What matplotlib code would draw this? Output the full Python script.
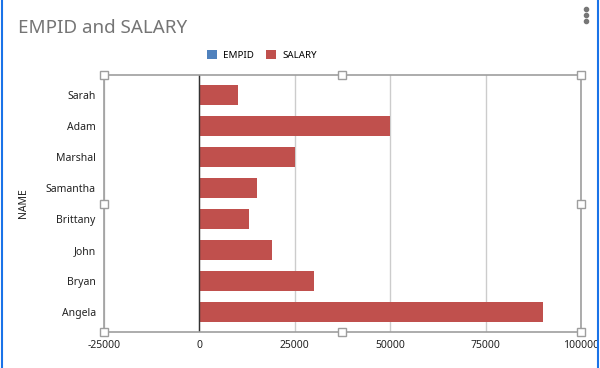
import matplotlib.pyplot as plt
from matplotlib.patches import Rectangle
from matplotlib.lines import Line2D

names = ["Sarah", "Adam", "Marshal", "Samantha", "Brittany", "John", "Bryan", "Angela"]
empid = [1, 2, 3, 4, 5, 6, 7, 8]
salary = [10000, 50000, 25000, 15000, 13000, 19000, 30000, 90000]
xticks = [-25000, 0, 25000, 50000, 75000, 100000]

BLUE = "#4f81bd"
RED = "#c0504d"
GRID = "#cccccc"
FRAME = "#9e9e9e"

plt.rcParams["font.family"] = ["Noto Sans", "DejaVu Sans"]

fig = plt.figure(figsize=(6.0, 3.68), dpi=100, facecolor="white")
ax = fig.add_axes([104 / 600, 1 - 332 / 368, 477 / 600, 257 / 368])

ypos = list(range(len(names)))
ax.barh(ypos, empid, height=0.65, color=BLUE, label="EMPID")
ax.barh(ypos, salary, left=empid, height=0.65, color=RED, label="SALARY")

ax.set_xlim(xticks[0], xticks[-1])
ax.set_ylim(len(names) - 1 + 0.645, -0.645)
ax.set_xticks(xticks)
ax.set_xticklabels([str(v) for v in xticks])
ax.set_yticks(ypos)
ax.set_yticklabels(names)
ax.tick_params(axis="both", length=0, labelsize=7.5, colors="#222222")
ax.tick_params(axis="x", pad=6)
ax.tick_params(axis="y", pad=6)
ax.xaxis.grid(True, color=GRID, linewidth=1)
ax.set_axisbelow(True)
ax.axvline(0, color="#333333", linewidth=1, zorder=1)
for side in ax.spines.values():
    side.set_color(FRAME)
    side.set_linewidth(1.2)
ax.set_ylabel("NAME", fontsize=7.5, color="#222222", labelpad=12)

fig.text(18 / 600, 1 - 28 / 368, "EMPID and SALARY", fontsize=13.5, color="#757575",
         va="center", ha="left")
fig.legend(loc="center", bbox_to_anchor=(262 / 600, 1 - 55 / 368), ncol=2,
           frameon=False, fontsize=7, handlelength=1.0, handleheight=1.0,
           columnspacing=1.2, handletextpad=0.7)

# selection handles on the plot area
x0, x1 = 104 / 600, 581 / 600
y0, y1 = 1 - 332 / 368, 1 - 75 / 368
hw, hh = 8 / 600, 8 / 368
for hx in (x0, (x0 + x1) / 2, x1):
    for hy in (y0, (y0 + y1) / 2, y1):
        if hx == (x0 + x1) / 2 and hy == (y0 + y1) / 2:
            continue
        fig.add_artist(Rectangle((hx - hw / 2, hy - hh / 2), hw, hh, transform=fig.transFigure,
                                 facecolor="white", edgecolor=FRAME, linewidth=1, zorder=5))

# chart selection border and menu dots
fig.add_artist(Line2D([1.5 / 600, 1.5 / 600], [0, 1], color="#1a73e8", linewidth=1.5))
fig.add_artist(Line2D([598 / 600, 598 / 600], [0, 1], color="#1a73e8", linewidth=1.5))
for dy in (9, 15, 21):
    fig.add_artist(Line2D([586 / 600], [1 - dy / 368], marker="o", markersize=3,
                          color="#777777", linestyle="none"))

fig.savefig("out.png", dpi=100, facecolor="white")
